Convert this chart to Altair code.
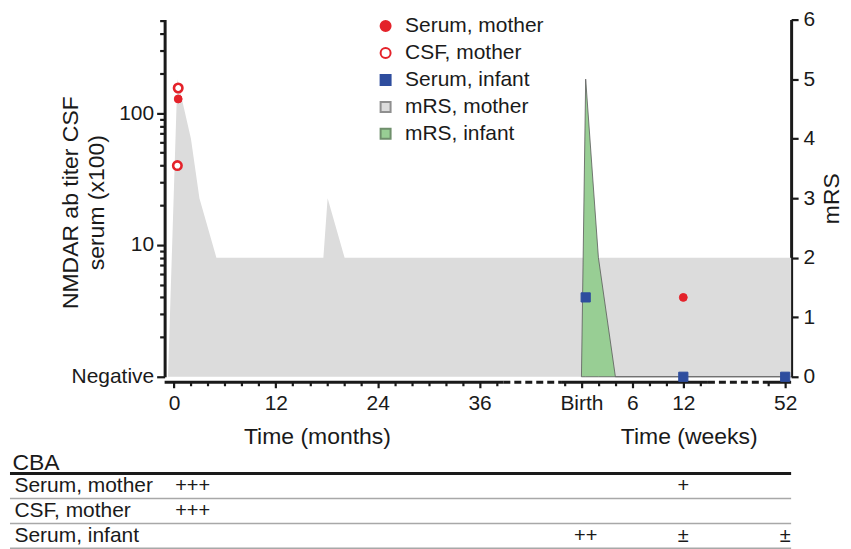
import altair as alt
import pandas as pd

FONT = "Liberation Sans"
INK = "#1a1a1a"

# ------------------------------------------------------------------ data
series = ["Serum, mother", "CSF, mother", "Serum, infant", "mRS, mother", "mRS, infant"]
fill_range = ["#e4222a", "#ffffff", "#2e4d9e", "#dcdcdc", "#98ce94"]
stroke_range = ["#e4222a", "#e4222a", "#2e4d9e", "#8f8f8f", "#6f8f6c"]
shape_range = ["circle", "circle", "square", "square", "square"]

NEGATIVE = 1  # titer plotted at the "Negative" level

# NMDAR ab titers (x100)
serum_mother_unit = ["months", "weeks"]
serum_mother_time = [0.5, 12]
serum_mother_titer = [128, 4]

csf_mother_unit = ["months", "months"]
csf_mother_time = [0.5, 0.4]
csf_mother_titer = [155, 40]

serum_infant_unit = ["weeks", "weeks", "weeks"]
serum_infant_time = [0.5, 12, 52]
serum_infant_titer = [4, NEGATIVE, NEGATIVE]

# modified Rankin scale
mrs_mother_unit = ["months"] * 8 + ["weeks"]
mrs_mother_time = [-0.7, 0.4, 2, 3, 5, 17.6, 18.1, 20.1, 52.7]
mrs_mother_score = [0, 5, 4, 3, 2, 2, 3, 2, 2]

mrs_infant_unit = ["weeks"] * 5
mrs_infant_time = [0, 0.5, 2, 4, 52.3]
mrs_infant_score = [0, 5, 2, 0, 0]

# CBA table
cba_rows = ["Serum, mother", "CSF, mother", "Serum, infant"]
cba_row = ["Serum, mother", "Serum, mother", "CSF, mother", "Serum, infant", "Serum, infant", "Serum, infant"]
cba_unit = ["months", "weeks", "months", "weeks", "weeks", "weeks"]
cba_time = [2.2, 12, 2.2, 0.5, 12, 52]
cba_result = ["+++", "+", "+++", "++", "±", "±"]

# axis ticks
month_minor = list(range(0, 40, 2))
month_labels = {0: "0", 12: "12", 24: "24", 36: "36"}
week_minor = list(range(-2, 16, 2)) + [50, 52]
week_labels = {0: "Birth", 6: "6", 12: "12", 52: "52"}
titer_ticks = [1, 2, 3, 4, 5, 6, 7, 8, 9, 10, 20, 30, 40, 50, 60, 70, 80, 90, 100, 200, 300, 400, 500]
titer_labels = {1: "Negative", 10: "10", 100: "100"}
mrs_ticks = [0, 1, 2, 3, 4, 5, 6]

# broken time axis: (unit, start, unit, end)
axis_solid = [("months", -1.1, "months", 38.8), ("weeks", -2.4, "weeks", 14.9), ("weeks", 50, "weeks", 52.7)]
axis_dashed = [("months", 38.8, "weeks", -2.4), ("weeks", 14.9, "weeks", 50)]


# ------------------------------------------------------------------ broken-axis transform
def to_pos(unit, t):
    if unit == "months":
        return t
    return 48 + t if t <= 20 else 20 + t


W, H = 628, 360
XDOM = [to_pos("months", -1.1), to_pos("weeks", 52.7)]

tick_pos = [to_pos("months", m) for m in month_minor] + [to_pos("weeks", w) for w in week_minor]
label_map = {to_pos("months", k): v for k, v in month_labels.items()}
label_map.update({to_pos("weeks", k): v for k, v in week_labels.items()})


def ternary(mapping):
    expr = "''"
    for k, v in mapping.items():
        expr = f"datum.value == {k} ? '{v}' : ({expr})"
    return expr


x_major = "[" + ",".join(str(k) for k in label_map) + "]"
y_major = "[" + ",".join(str(k) for k in titer_labels) + "]"

XSCALE = alt.Scale(domain=XDOM, nice=False, zero=False)
X = alt.X(
    "pos:Q",
    scale=XSCALE,
    axis=alt.Axis(
        values=tick_pos, labelExpr=ternary(label_map), domain=False, grid=False,
        tickSize={"condition": {"test": f"indexof({x_major}, datum.value) >= 0", "value": 7}, "value": 5},
        tickWidth=2.2, tickColor=INK, offset=4, labelPadding=5, labelOverlap=False, labelFlush=False,
        labelFont=FONT, labelFontSize=21, labelColor=INK, title=None,
    ),
)

Y_TITER = alt.Y(
    "titer:Q",
    scale=alt.Scale(type="log", domain=[1, 512], nice=False),
    axis=alt.Axis(
        values=titer_ticks, labelExpr=ternary(titer_labels), grid=False,
        tickSize={"condition": {"test": f"indexof({y_major}, datum.value) >= 0", "value": 8}, "value": 5},
        tickWidth=2.2, tickColor=INK, domainWidth=3, domainColor=INK,
        labelFont=FONT, labelFontSize=21, labelColor=INK, labelPadding=3, labelOverlap=False,
        title=["NMDAR ab titer CSF", "serum (x100)"], titleFont=FONT, titleFontSize=23,
        titleFontWeight="normal", titleColor=INK, titleX=-94, titleY=183, titleLineHeight=26,
        titleAlign="center", titleBaseline="middle",
    ),
)

Y_MRS = alt.Y(
    "mrs:Q",
    scale=alt.Scale(domain=[0, 6], nice=False, zero=True),
    axis=alt.Axis(
        orient="right", values=mrs_ticks, format="d", grid=False,
        tickSize=7, tickWidth=2.2, tickColor=INK, domainWidth=3, domainColor=INK,
        labelFont=FONT, labelFontSize=21, labelColor=INK, labelPadding=5,
        title="mRS", titleAngle=270, titleFont=FONT, titleFontSize=23, titleFontWeight="normal",
        titleColor=INK, titleX=40, titleY=179, titleAlign="center", titleBaseline="middle",
    ),
)

LEG = alt.Legend(
    title=None, orient="none", legendX=211, legendY=-4, padding=0,
    labelFont=FONT, labelFontSize=21, labelColor=INK, labelOffset=9,
    symbolSize=100, symbolStrokeWidth=2, rowPadding=5,
)
FILL = alt.Fill("series:N", scale=alt.Scale(domain=series, range=fill_range), legend=LEG)
STROKE = alt.Stroke("series:N", scale=alt.Scale(domain=series, range=stroke_range), legend=LEG)
SHAPE = alt.Shape("series:N", scale=alt.Scale(domain=series, range=shape_range), legend=LEG)


def frame(name, units, times, col, vals):
    return pd.DataFrame({
        "series": name,
        "pos": [to_pos(u, t) for u, t in zip(units, times)],
        col: vals,
    })


# ------------------------------------------------------------------ mRS areas (right axis)
gray_df = frame("mRS, mother", mrs_mother_unit, mrs_mother_time, "mrs", mrs_mother_score)
green_df = frame("mRS, infant", mrs_infant_unit, mrs_infant_time, "mrs", mrs_infant_score)

gray_area = alt.Chart(gray_df).mark_area(strokeWidth=0).encode(x=X, y=Y_MRS, fill=FILL)
green_area = alt.Chart(green_df).mark_area(stroke="#5a5a5a", strokeWidth=0.8).encode(x=X, y=Y_MRS, fill=FILL)
mrs_group = alt.layer(gray_area, green_area)

# ------------------------------------------------------------------ titers (left axis)
sm_df = frame("Serum, mother", serum_mother_unit, serum_mother_time, "titer", serum_mother_titer)
csf_df = frame("CSF, mother", csf_mother_unit, csf_mother_time, "titer", csf_mother_titer)
si_df = frame("Serum, infant", serum_infant_unit, serum_infant_time, "titer", serum_infant_titer)

enc = dict(x=X, y=Y_TITER, fill=FILL, stroke=STROKE, shape=SHAPE)
csf_pts = alt.Chart(csf_df).mark_point(filled=False, opacity=1, size=72, strokeWidth=2.6).encode(**enc)
sm_pts = alt.Chart(sm_df).mark_point(opacity=1, size=62, strokeWidth=1).encode(**enc)
si_pts = alt.Chart(si_df).mark_point(opacity=1, size=85, strokeWidth=1).encode(**enc)

solid_df = pd.DataFrame({"pos": [to_pos(a, b) for a, b, _, _ in axis_solid],
                         "pos2": [to_pos(c, d) for _, _, c, d in axis_solid]})
dashed_df = pd.DataFrame({"pos": [to_pos(a, b) for a, b, _, _ in axis_dashed],
                          "pos2": [to_pos(c, d) for _, _, c, d in axis_dashed]})
axis_solid_rule = alt.Chart(solid_df).mark_rule(color=INK, strokeWidth=3).encode(
    x=X, x2="pos2:Q", y=alt.value(H + 3.5))
axis_dashed_rule = alt.Chart(dashed_df).mark_rule(color=INK, strokeWidth=3, strokeDash=[7, 4]).encode(
    x=X, x2="pos2:Q", y=alt.value(H + 3.5))

xtitle_df = pd.DataFrame({"label": ["Time (months)", "Time (weeks)"],
                          "pos": [to_pos("months", 16.9), to_pos("weeks", 12.7)]})
xtitles = alt.Chart(xtitle_df).mark_text(font=FONT, fontSize=23, color=INK, baseline="middle").encode(
    x=X, y=alt.value(H + 58), text="label:N")

titer_group = alt.layer(axis_solid_rule, axis_dashed_rule, xtitles, csf_pts, sm_pts, si_pts)

top = alt.layer(mrs_group, titer_group).resolve_scale(y="independent").properties(width=W, height=H - 2)

# ------------------------------------------------------------------ CBA table
cba_df = pd.DataFrame({
    "row": cba_row,
    "pos": [to_pos(u, t) for u, t in zip(cba_unit, cba_time)],
    "result": cba_result,
})
rows_df = pd.DataFrame({"row": cba_rows})
top_df = pd.DataFrame({"row": [cba_rows[0]]})

TAB_SCALE = alt.Scale(domain=cba_rows, paddingInner=0, paddingOuter=0)
TAB_AXIS = alt.Axis(title=None, domain=False, ticks=False, labelAlign="left", labelPadding=151,
                    labelFont=FONT, labelFontSize=21, labelColor=INK, grid=False)
XT = alt.X("pos:Q", scale=XSCALE, axis=None)

tab_text = alt.Chart(cba_df).mark_text(font=FONT, fontSize=20, color=INK, baseline="middle").encode(
    x=XT, y=alt.Y("row:N", sort=cba_rows, scale=TAB_SCALE, axis=TAB_AXIS), text="result:N")
tab_lines = alt.Chart(rows_df).mark_rule(color="#a8a8a8", strokeWidth=1.5).encode(
    y=alt.Y("row:N", sort=cba_rows, scale=TAB_SCALE, axis=TAB_AXIS, bandPosition=1),
    x=alt.value(-155), x2=alt.value(W))
tab_top = alt.Chart(top_df).mark_rule(color=INK, strokeWidth=3).encode(
    y=alt.value(0), x=alt.value(-155), x2=alt.value(W))

table = alt.layer(tab_text, tab_lines, tab_top).properties(
    width=W, height=75,
    title=alt.TitleParams("CBA", anchor="start", frame="bounds", font=FONT, fontSize=23,
                          fontWeight="normal", color=INK, offset=-3, dx=4),
)

chart = alt.vconcat(top, table, spacing=3).properties(
    padding={"left": 0, "top": 0, "right": 0, "bottom": 0}
).configure_view(stroke=None)

chart.save("out.html", embed_options={"renderer": "svg", "actions": False})
